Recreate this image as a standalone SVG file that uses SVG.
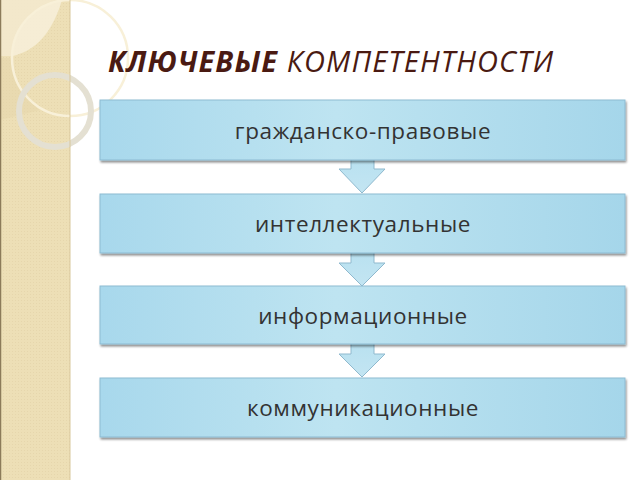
<svg xmlns="http://www.w3.org/2000/svg" width="640" height="480" viewBox="0 0 640 480">
<defs>
<linearGradient id="boxg" x1="0" y1="0" x2="1" y2="0">
<stop offset="0" stop-color="#A8D8EC"/>
<stop offset="0.45" stop-color="#BEE4F1"/>
<stop offset="1" stop-color="#A5D6EA"/>
</linearGradient>
<linearGradient id="arrg" x1="0" y1="0" x2="0" y2="1">
<stop offset="0" stop-color="#B9E1F0"/>
<stop offset="1" stop-color="#C3E5F2"/>
</linearGradient>
<filter id="sh" x="-5%" y="-10%" width="110%" height="130%">
<feGaussianBlur in="SourceAlpha" stdDeviation="1.2"/>
<feOffset dx="1" dy="2"/>
<feComponentTransfer><feFuncA type="linear" slope="0.45"/></feComponentTransfer>
<feMerge><feMergeNode/><feMergeNode in="SourceGraphic"/></feMerge>
</filter>
<pattern id="dots" width="3" height="3" patternUnits="userSpaceOnUse">
<rect width="3" height="3" fill="#EDDFB6"/>
<rect width="1" height="1" fill="#E6D6AC"/>
</pattern>
</defs>
<style>
.box{fill:url(#boxg);stroke:#8DBBD2;stroke-width:1;filter:url(#sh)}
.arr{fill:url(#arrg);stroke:#8FB9CE;stroke-width:1}
.lbl{font-family:"Open Sans","Noto Sans","DejaVu Sans",sans-serif;font-size:22.5px;letter-spacing:0.6px;fill:#333333;text-anchor:middle}
.ttl{font-family:"Open Sans","Noto Sans",sans-serif;font-size:29px;letter-spacing:1.1px;fill:#4A1A12;font-style:italic}
</style>
<rect width="640" height="480" fill="#FFFFFF"/>
<g id="sidebar">
<rect x="0" y="0" width="70" height="480" fill="url(#dots)"/>
<path d="M0,0 H58 A58,58 0 0 0 12.5,56 H0 Z" fill="#F3EACF" opacity="0.85"/>
<path d="M58,0 A58,58 0 0 0 12.5,56 C30,52 50,40 62,0 Z" fill="#F6EED8" opacity="0.9"/>
<path d="M0,58 H12 C14,82 26,100 40,110 L0,120 Z" fill="#E6D6AA" opacity="0.5"/>
<circle cx="70" cy="58" r="58" fill="none" stroke="#F8F0D8" stroke-width="2.5"/>
<circle cx="55" cy="111" r="36" fill="none" stroke="#E4E0D2" stroke-width="6"/>
<line x1="0.5" y1="0" x2="0.5" y2="480" stroke="#8C7B5A" stroke-width="1.5"/>
<line x1="70" y1="0" x2="70" y2="480" stroke="#D8C79C" stroke-width="1"/>
</g>
<g id="title">
<text class="ttl" x="108" y="72"><tspan font-weight="bold">КЛЮЧЕВЫЕ</tspan> КОМПЕТЕНТНОСТИ</text>
</g>
<g id="connectors">
<path class="arr" d="M351,160 V169 H339 L362,193 L385,169 H374 V160"/>
<path class="arr" d="M351,253 V263 H339 L362,286 L385,263 H374 V253"/>
<path class="arr" d="M351,344 V354 H339 L362,377 L385,354 H374 V344"/>
</g>
<g id="n1">
<rect class="box" x="100" y="100" width="525" height="60"/>
<text class="lbl" x="363" y="139">гражданско-правовые</text>
</g>
<g id="n2">
<rect class="box" x="100" y="194" width="525" height="59"/>
<text class="lbl" x="363" y="232">интеллектуальные</text>
</g>
<g id="n3">
<rect class="box" x="100" y="286" width="525" height="58"/>
<text class="lbl" x="363" y="324">информационные</text>
</g>
<g id="n4">
<rect class="box" x="100" y="378" width="525" height="59"/>
<text class="lbl" x="363" y="416">коммуникационные</text>
</g>
</svg>
